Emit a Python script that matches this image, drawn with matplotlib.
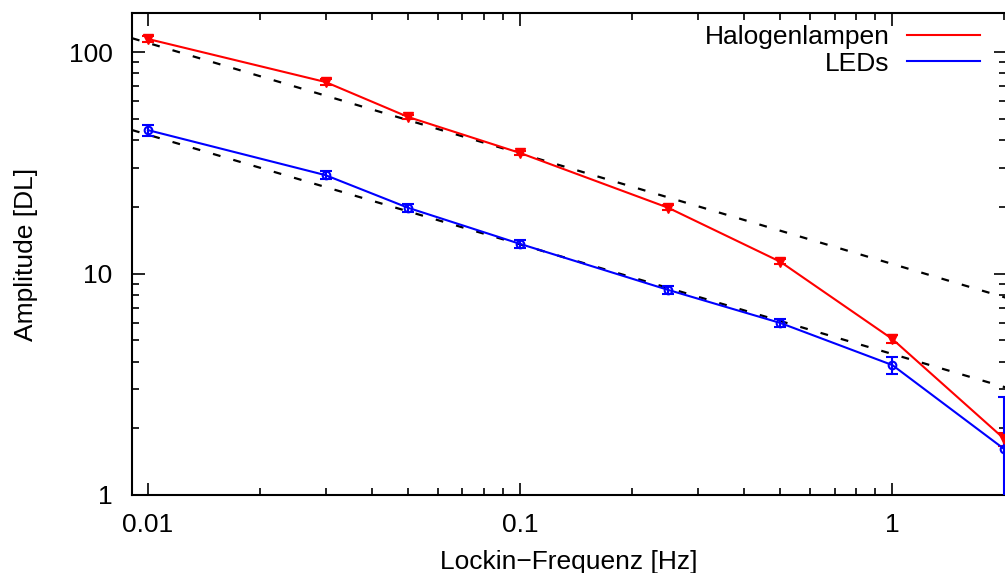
import matplotlib

matplotlib.use("Agg")
import matplotlib.pyplot as plt
from matplotlib.lines import Line2D
import numpy as np

# Lockin frequencies [Hz]
freq = [0.01, 0.03, 0.05, 0.1, 0.25, 0.5, 1.0, 2.0]

# Halogen lamps
halogen_amp = [114.5, 73.2, 50.9, 35.0, 19.8, 11.3, 5.06, 1.79]
halogen_err = [3.0, 2.0, 1.2, 0.8, 0.5, 0.3, 0.2, 0.12]

# LEDs
led_amp = [44.4, 27.8, 19.8, 13.6, 8.43, 5.98, 3.86, 1.61]
led_err = [2.5, 1.2, 0.9, 0.6, 0.35, 0.25, 0.35, 1.16]

# power-law fits a * f^b
halogen_fit = (11.04, -0.499)
led_fit = (4.33, -0.495)

plt.rcParams["font.family"] = ["Liberation Sans", "DejaVu Sans"]
plt.rcParams["font.size"] = 19

fig = plt.figure(figsize=(10.05, 5.73), dpi=100)
# right spine sits just outside the image, like the cropped original
ax = fig.add_axes([132 / 1005, 78 / 573, 874 / 1005, 482 / 573])

f_fit = np.array([0.00906, 2.02])
for a, b in (halogen_fit, led_fit):
    ax.plot(f_fit, a * f_fit ** b, color="black", lw=1.6,
            linestyle=(0, (3.5, 6)), zorder=2)

ax.errorbar(freq, halogen_amp, yerr=halogen_err, color="#ff0000", lw=1.5,
            marker="v", ms=7, capsize=4, elinewidth=1.5, capthick=1.5,
            label="Halogenlampen", zorder=3)
ax.errorbar(freq, led_amp, yerr=led_err, color="#0000ff", lw=1.5,
            marker="o", ms=5.5, mfc="none", mew=1.5, capsize=4,
            elinewidth=1.5, capthick=1.5, label="LEDs", zorder=3)

ax.set_xscale("log")
ax.set_yscale("log")
ax.set_xlim(0.00906, 2.02)
ax.set_ylim(1, 150)
ax.set_xticks([0.01, 0.1, 1])
ax.set_xticklabels(["0.01", "0.1", "1"])
ax.set_yticks([1, 10, 100])
ax.set_yticklabels(["1", "10", "100"])

ax.tick_params(which="both", direction="in", top=True, right=True, width=1.2)
ax.tick_params(which="major", length=9)
ax.tick_params(axis="x", which="major", pad=13)
ax.tick_params(axis="y", which="major", pad=14)
ax.tick_params(which="minor", length=5)
for s in ax.spines.values():
    s.set_linewidth(1.5)

ax.set_xlabel("Lockin\u2212Frequenz [Hz]", labelpad=9)
ax.set_ylabel("Amplitude [DL]", labelpad=22)

handles = [Line2D([], [], color="#ff0000", lw=1.5),
           Line2D([], [], color="#0000ff", lw=1.5)]
labels = ["Halogenlampen", "LEDs"]
ax.legend(handles, labels, loc="upper right", frameon=False, markerfirst=False,
          handlelength=2.77, handletextpad=0.65, labelspacing=0.1,
          borderpad=0, borderaxespad=0,
          bbox_to_anchor=(980 / 1005, 1 - 25 / 573),
          bbox_transform=fig.transFigure)

fig.savefig("out.png", dpi=100)
